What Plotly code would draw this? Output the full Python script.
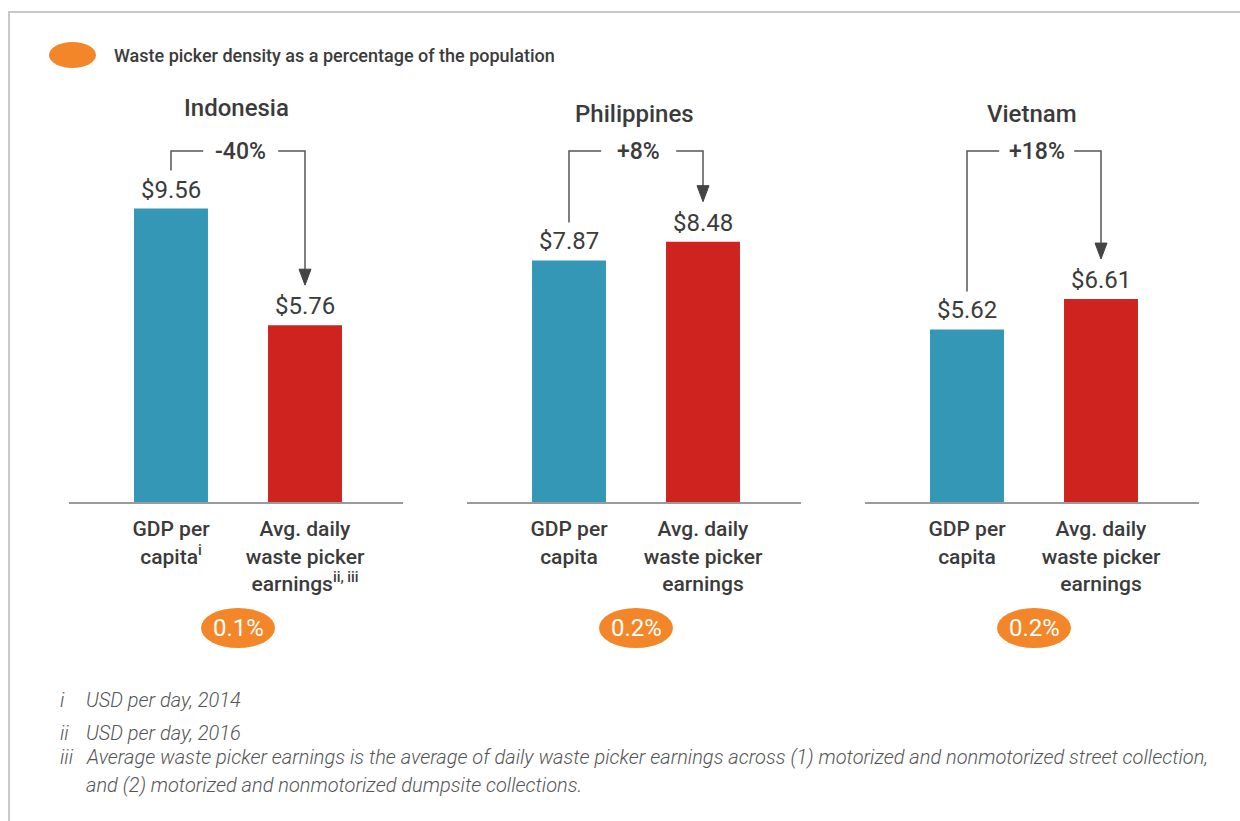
import plotly.graph_objects as go

# data
countries = ["Indonesia", "Philippines", "Vietnam"]
gdp_per_capita = [9.56, 7.87, 5.62]
picker_earnings = [5.76, 8.48, 6.61]
pct_change = ["-40%", "+8%", "+18%"]
density = ["0.1%", "0.2%", "0.2%"]
tick_labels = [
    ["GDP per<br>capita<sup>i</sup>", "Avg. daily<br>waste picker<br>earnings<sup>ii, iii</sup>"],
    ["GDP per<br>capita", "Avg. daily<br>waste picker<br>earnings"],
    ["GDP per<br>capita", "Avg. daily<br>waste picker<br>earnings"],
]
footnotes = [
    ("i", "USD per day, 2014"),
    ("ii", "USD per day, 2016"),
    ("iii", "Average waste picker earnings is the average of daily waste picker earnings across (1) motorized and nonmotorized street collection,"),
    ("", "and (2) motorized and nonmotorized dumpsite collections."),
]

BLUE = "#3597B6"
RED = "#CF2320"
ORANGE = "#F4862A"
TXT = "#3B3B3B"
FONT = "Roboto"

W, H = 1240, 821
base_px = 502
px_per_unit = 30.7
ymax = 12.5
top_px = base_px - ymax * px_per_unit
panel_left = [69, 467, 865]
panel_w = 334
cat_px = 134  # pixels between the two bars of a panel
xr = [-102 / cat_px, 1 + 98 / cat_px]

fig = go.Figure()
layout = dict(
    width=W, height=H, margin=dict(l=0, r=0, t=0, b=0),
    paper_bgcolor="white", plot_bgcolor="white", showlegend=False,
    font=dict(family=FONT, color=TXT),
    yaxis=dict(range=[0, ymax], domain=[1 - base_px / H, 1 - top_px / H],
               visible=False, fixedrange=True),
)
shapes = []
annotations = []

def py(p):
    return 1 - p / H

bracket_top = (base_px - 151) / px_per_unit
gap_c, gap_hw = 0.52, 0.28
head_w, head_h = 6 / cat_px, 16 / px_per_unit

for i, c in enumerate(countries):
    xa = "x" if i == 0 else "x%d" % (i + 1)
    axname = "xaxis" if i == 0 else "xaxis%d" % (i + 1)
    layout[axname] = dict(
        domain=[panel_left[i] / W, (panel_left[i] + panel_w) / W],
        range=xr, anchor="y", showgrid=False, zeroline=False,
        showline=True, linecolor="#9A9A9A", linewidth=2,
        tickvals=[0, 1], ticktext=tick_labels[i], ticks="",
        tickfont=dict(family=FONT, size=21, color=TXT, weight=500),
        ticklabelstandoff=7, fixedrange=True,
    )
    vals = [gdp_per_capita[i], picker_earnings[i]]
    fig.add_trace(go.Bar(
        x=[0, 1], y=vals, width=0.552, xaxis=xa, yaxis="y",
        marker=dict(color=[BLUE, RED], line=dict(width=0)),
        hoverinfo="skip",
    ))
    # value labels
    for j, v in enumerate(vals):
        annotations.append(dict(
            x=j, y=v, xref=xa, yref="y", text="$%.2f" % v, showarrow=False,
            yanchor="middle", yshift=19,
            font=dict(family=FONT, size=24, color=TXT),
        ))
    # bracket with arrow
    yb = vals[0] + 38 / px_per_unit
    tip = vals[1] + 40 / px_per_unit
    shapes.append(dict(
        type="path", xref=xa, yref="y",
        path="M 0,%f L 0,%f L %f,%f M %f,%f L 1,%f L 1,%f" % (
            yb, bracket_top, gap_c - gap_hw, bracket_top,
            gap_c + gap_hw, bracket_top, bracket_top, tip + head_h * 0.8),
        line=dict(color="#555555", width=1.5),
    ))
    shapes.append(dict(
        type="path", xref=xa, yref="y",
        path="M %f,%f L %f,%f L 1,%f Z" % (
            1 - head_w, tip + head_h, 1 + head_w, tip + head_h, tip),
        fillcolor="#444444", line=dict(color="#444444", width=1),
    ))
    annotations.append(dict(
        x=gap_c, y=bracket_top, xref=xa, yref="y", text=pct_change[i],
        showarrow=False, yanchor="middle",
        font=dict(family=FONT, size=23, color=TXT, weight=500),
    ))
    # title
    title_y = 108 if i == 0 else 114
    annotations.append(dict(
        x=0.5, y=py(title_y), xref=xa + " domain", yref="paper", text=c,
        showarrow=False, yanchor="middle",
        font=dict(family=FONT, size=24, color=TXT, weight=500),
    ))
    # density pill
    cx = (102 + 67) / panel_w
    shapes.append(dict(
        type="circle", xref=xa + " domain", yref="paper",
        x0=cx - 37 / panel_w, x1=cx + 37 / panel_w, y0=py(648), y1=py(608),
        fillcolor=ORANGE, line=dict(width=0),
    ))
    annotations.append(dict(
        x=0.5, y=py(628), xref=xa, yref="paper", text=density[i],
        showarrow=False, yanchor="middle",
        font=dict(family=FONT, size=24, color="white"),
    ))

# legend marker
shapes.append(dict(type="circle", xref="paper", yref="paper",
                   x0=49 / W, x1=96 / W, y0=py(68), y1=py(42),
                   fillcolor=ORANGE, line=dict(width=0)))
annotations.append(dict(
    x=112 / W, y=py(55), xref="paper", yref="paper", xanchor="left",
    yanchor="middle", showarrow=False,
    text="Waste picker density as a percentage of the population",
    font=dict(family=FONT, size=18, color=TXT, weight=500),
))

# border
shapes.append(dict(type="line", xref="paper", yref="paper",
                   x0=8 / W, x1=1, y0=py(12), y1=py(12),
                   line=dict(color="#C8C8C8", width=2)))
shapes.append(dict(type="line", xref="paper", yref="paper",
                   x0=9 / W, x1=9 / W, y0=py(12), y1=0,
                   line=dict(color="#C8C8C8", width=2)))

# footnotes
foot_y = [700, 733, 757, 785]
for (mark, txt), fy in zip(footnotes, foot_y):
    if mark:
        annotations.append(dict(
            x=58 / W, y=py(fy), xref="paper", yref="paper", xanchor="left",
            yanchor="middle", showarrow=False, text="<i>%s</i>" % mark,
            font=dict(family=FONT, size=20, color="#555555", weight=300),
        ))
    annotations.append(dict(
        x=84 / W, y=py(fy), xref="paper", yref="paper", xanchor="left",
        yanchor="middle", showarrow=False, text="<i>%s</i>" % txt,
        font=dict(family=FONT, size=20, color="#555555", weight=300),
    ))

layout["shapes"] = shapes
layout["annotations"] = annotations
fig.update_layout(**layout)
fig.write_html("out.html", config={"displayModeBar": False},
               post_script="document.body.style.margin='0';")
